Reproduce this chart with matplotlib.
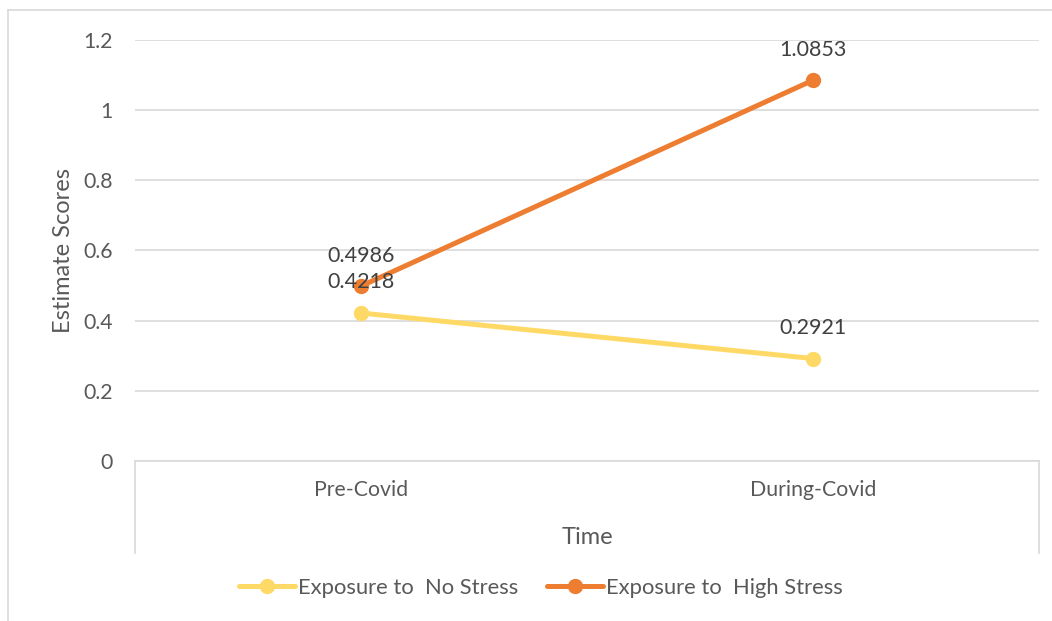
import matplotlib
matplotlib.use("Agg")
import matplotlib.pyplot as plt
from matplotlib.lines import Line2D
import matplotlib.transforms as mtransforms

plt.rcParams['font.family'] = ['Lato', 'DejaVu Sans']

periods = ["Pre-Covid", "During-Covid"]
no_stress = [0.4218, 0.2921]
high_stress = [0.4986, 1.0853]
series_names = ["Exposure to  No Stress", "Exposure to  High Stress"]
y_ticks = [0, 0.2, 0.4, 0.6, 0.8, 1, 1.2]
y_tick_labels = ["0", "0.2", "0.4", "0.6", "0.8", "1", "1.2"]

text_col = "#595959"
grid_col = "#d9d9d9"
colors = ["#ffd966", "#ed7d31"]

W, H = 1052, 621
fig = plt.figure(figsize=(W / 100, H / 100), dpi=100)
ax = fig.add_axes([135 / W, 1 - 461 / H, (1039 - 135) / W, (461 - 40) / H])

x = list(range(len(periods)))
for vals, name, c in zip([no_stress, high_stress], series_names, colors):
    ax.plot(x, vals, color=c, lw=3.6, marker="o", ms=10, label=name,
            solid_capstyle="round", zorder=3)
    for xi, v in zip(x, vals):
        ax.annotate(f"{v:.4f}", (xi, v), xytext=(0, 22), textcoords="offset points",
                    ha="center", va="center", fontsize=15.5, color="#404040", zorder=4)

ax.set_xlim(-0.5, len(periods) - 0.5)
ax.set_ylim(0, 1.2)
ax.set_yticks(y_ticks)
ax.set_yticklabels(y_tick_labels)
ax.set_xticks(x)
ax.set_xticklabels(periods)
ax.tick_params(axis="both", length=0, labelsize=15.3, labelcolor=text_col)
ax.tick_params(axis="y", pad=16)
ax.tick_params(axis="x", pad=14)
ax.grid(axis="y", color=grid_col, lw=1.2)
ax.set_axisbelow(True)
for s in ["top", "right", "left"]:
    ax.spines[s].set_visible(False)
ax.spines["bottom"].set_color(grid_col)
ax.spines["bottom"].set_linewidth(1.2)

# boundary lines of the category axis dropping below the plot
trans = mtransforms.blended_transform_factory(ax.transData, ax.transAxes)
for xb in [-0.5, len(periods) - 0.5]:
    ax.plot([xb, xb], [0, -92 / 421], color=grid_col, lw=1.2,
            transform=trans, clip_on=False)

ax.set_ylabel("Estimate Scores", fontsize=17, color=text_col, labelpad=7)
ax.set_xlabel("Time", fontsize=17, color=text_col, labelpad=19)

leg = fig.legend(loc="center", bbox_to_anchor=(541 / W, 1 - 588 / H), ncol=2,
                 frameon=False, fontsize=15.8, handlelength=2.55, columnspacing=1.3,
                 handletextpad=0.15)
for t in leg.get_texts():
    t.set_color(text_col)

# outer chart frame
fig.add_artist(Line2D([8 / W, 8 / W], [0, 1 - 10 / H], color=grid_col, lw=1.2))
fig.add_artist(Line2D([8 / W, 1], [1 - 10 / H, 1 - 10 / H], color=grid_col, lw=1.2))

fig.savefig("out.png", dpi=100)
